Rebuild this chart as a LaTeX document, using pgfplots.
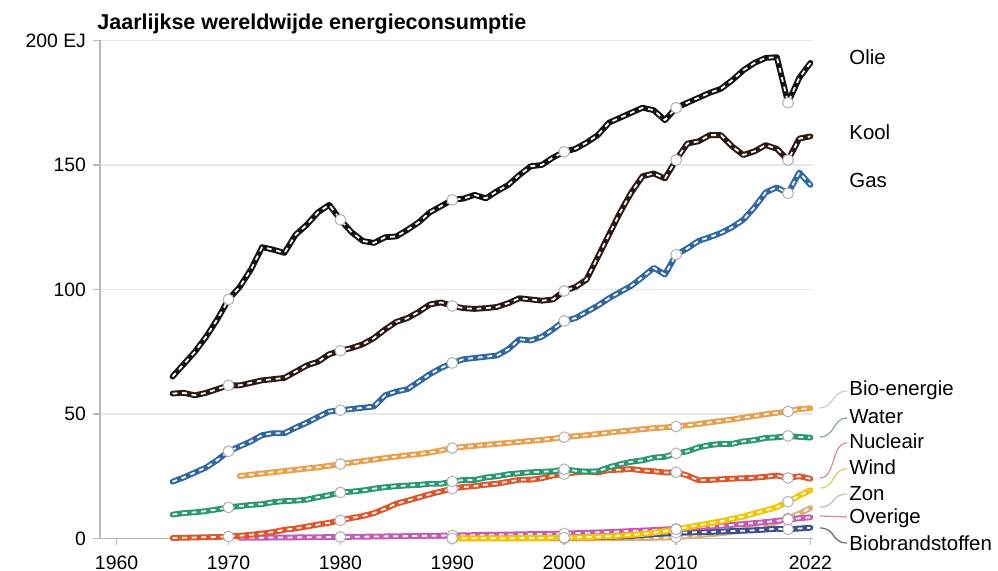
\documentclass[border=0pt]{standalone}
\usepackage{fontspec}
\setmainfont{Liberation Sans}
\usepackage{pgfplots}
\usepackage{pgfplotstable}
\pgfplotsset{compat=1.18}

\definecolor{cOil}{HTML}{121212}
\definecolor{cCoal}{HTML}{2A1814}
\definecolor{cGas}{HTML}{2F67A3}
\definecolor{cBio}{HTML}{E9A04C}
\definecolor{cWater}{HTML}{2A9870}
\definecolor{cNuc}{HTML}{E0552A}
\definecolor{cWind}{HTML}{F2C500}
\definecolor{cZon}{HTML}{D9AE7C}
\definecolor{cOver}{HTML}{C65BB5}
\definecolor{cBiof}{HTML}{3C4F8F}

\pgfplotstableread{
x y
1965 65
1966 70
1967 75
1968 81
1969 88
1970 96
1971 101
1972 108
1973 117
1974 116
1975 114.7
1976 122
1977 126
1978 131
1979 134
1980 128
1981 123
1982 119.5
1983 118.7
1984 121
1985 121.3
1986 124
1987 127
1988 131
1989 133.5
1990 136
1991 136.5
1992 138
1993 136.6
1994 139.5
1995 142
1996 146
1997 149.5
1998 150
1999 153
2000 155.3
2001 156.5
2002 159
2003 162
2004 167
2005 169
2006 171
2007 173
2008 172
2009 168
2010 173
2011 175
2012 177
2013 179
2014 180.6
2015 184
2016 188
2017 191
2018 193
2019 193.3
2020 175
2021 185
2022 191
}\tOil

\pgfplotstableread{
x y
1965 58.2
1966 58.5
1967 57.5
1968 58.5
1969 60
1970 61.5
1971 61.5
1972 62.5
1973 63.5
1974 64
1975 64.5
1976 67
1977 69.5
1978 71
1979 74
1980 75.4
1981 76.5
1982 78
1983 80.5
1984 84
1985 87
1986 88.5
1987 91
1988 94
1989 94.8
1990 93.4
1991 92.5
1992 92.2
1993 92.5
1994 93
1995 94.5
1996 96.5
1997 96
1998 95.5
1999 96
2000 99.4
2001 101
2002 104
2003 113
2004 122
2005 131
2006 139
2007 145.5
2008 146.6
2009 144.6
2010 152
2011 158.6
2012 159.5
2013 162
2014 162
2015 157.5
2016 154
2017 155.5
2018 158
2019 156.5
2020 152
2021 160.6
2022 161.5
}\tCoal

\pgfplotstableread{
x y
1965 22.8
1966 24.5
1967 26.5
1968 28.5
1969 31.5
1970 35
1971 37
1972 39
1973 41.5
1974 42.3
1975 42.3
1976 44.5
1977 46.5
1978 48.8
1979 51
1980 51.5
1981 52
1982 52.5
1983 53
1984 57.5
1985 59
1986 60
1987 63
1988 66
1989 68.5
1990 70.5
1991 72
1992 72.5
1993 73
1994 73.5
1995 76
1996 80
1997 79.5
1998 81
1999 84
2000 87.4
2001 88.5
2002 91
2003 93.5
2004 96.5
2005 99
2006 101.5
2007 105
2008 108.7
2009 106
2010 114
2011 116.5
2012 119.5
2013 121
2014 122.7
2015 125
2016 128
2017 133
2018 139
2019 141
2020 138.6
2021 147
2022 142
}\tGas

\pgfplotstableread{
x y
1971 25.1
1972 25.6
1973 26.1
1974 26.6
1975 27.1
1976 27.6
1977 28.1
1978 28.6
1979 29.2
1980 29.9
1981 30.5
1982 31.1
1983 31.7
1984 32.3
1985 32.9
1986 33.4
1987 33.9
1988 34.5
1989 35.4
1990 36.3
1991 36.8
1992 37.2
1993 37.6
1994 38
1995 38.4
1996 38.8
1997 39.2
1998 39.6
1999 40.1
2000 40.7
2001 41.1
2002 41.5
2003 42
2004 42.5
2005 43
2006 43.4
2007 43.9
2008 44.3
2009 44.6
2010 45
2011 45.5
2012 46
2013 46.6
2014 47.2
2015 47.8
2016 48.5
2017 49.2
2018 49.9
2019 50.5
2020 51
2021 52
2022 52.3
}\tBio

\pgfplotstableread{
x y
1965 9.6
1966 10.2
1967 10.5
1968 11
1969 11.7
1970 12.5
1971 13
1972 13.5
1973 13.8
1974 14.6
1975 15
1976 15.2
1977 15.6
1978 16.6
1979 17.4
1980 18.5
1981 18.8
1982 19.3
1983 20
1984 20.6
1985 21
1986 21.3
1987 21.5
1988 22
1989 22
1990 22.9
1991 23.5
1992 23.5
1993 24.5
1994 25
1995 25.8
1996 26.2
1997 26.6
1998 26.8
1999 27
2000 27.8
2001 27.2
2002 26.8
2003 27
2004 28.6
2005 29.8
2006 30.8
2007 31.4
2008 32.5
2009 32.8
2010 34.2
2011 35
2012 36.6
2013 37.5
2014 38
2015 38
2016 39
2017 39.5
2018 40.4
2019 40.6
2020 41.2
2021 40.8
2022 40.5
}\tWater

\pgfplotstableread{
x y
1965 0.2
1966 0.3
1967 0.4
1968 0.5
1969 0.6
1970 0.8
1971 1.1
1972 1.5
1973 2
1974 2.6
1975 3.5
1976 4
1977 4.8
1978 5.6
1979 6.3
1980 7.3
1981 8.2
1982 9
1983 10.2
1984 12
1985 14
1986 15.2
1987 16.5
1988 17.8
1989 18.9
1990 20
1991 20.7
1992 21
1993 21.6
1994 22
1995 22.8
1996 23.6
1997 23.6
1998 24.2
1999 25.3
2000 25.9
2001 26.5
2002 26.9
2003 26.5
2004 27.5
2005 27.6
2006 27.9
2007 27.3
2008 27
2009 26.5
2010 26.6
2011 25.3
2012 23.4
2013 23.5
2014 23.8
2015 24
2016 24.2
2017 24.4
2018 24.8
2019 25.3
2020 24.3
2021 25
2022 24
}\tNuc

\pgfplotstableread{
x y
1990 0.05
1991 0.06
1992 0.07
1993 0.08
1994 0.1
1995 0.12
1996 0.15
1997 0.18
1998 0.22
1999 0.27
2000 0.33
2001 0.4
2002 0.55
2003 0.7
2004 0.9
2005 1.1
2006 1.4
2007 1.8
2008 2.3
2009 2.9
2010 3.7
2011 4.5
2012 5.3
2013 6.1
2014 6.9
2015 7.9
2016 8.8
2017 10.1
2018 11.3
2019 12.6
2020 14.8
2021 17.2
2022 19.4
}\tWind

\pgfplotstableread{
x y
1990 0.01
1991 0.01
1992 0.01
1993 0.01
1994 0.01
1995 0.02
1996 0.02
1997 0.02
1998 0.02
1999 0.03
2000 0.03
2001 0.04
2002 0.05
2003 0.06
2004 0.08
2005 0.1
2006 0.12
2007 0.17
2008 0.25
2009 0.35
2010 0.5
2011 0.9
2012 1.3
2013 1.7
2014 2.1
2015 2.6
2016 3.3
2017 4.3
2018 5.4
2019 6.6
2020 8.1
2021 10
2022 12.2
}\tZon

\pgfplotstableread{
x y
1971 0.3
1972 0.32
1973 0.34
1974 0.37
1975 0.4
1976 0.44
1977 0.48
1978 0.52
1979 0.56
1980 0.6
1981 0.66
1982 0.72
1983 0.78
1984 0.84
1985 0.9
1986 0.96
1987 1.02
1988 1.08
1989 1.14
1990 1.2
1991 1.28
1992 1.36
1993 1.44
1994 1.52
1995 1.6
1996 1.68
1997 1.76
1998 1.84
1999 1.92
2000 2.0
2001 2.15
2002 2.3
2003 2.45
2004 2.6
2005 2.8
2006 3.0
2007 3.2
2008 3.4
2009 3.65
2010 3.9
2011 4.2
2012 4.5
2013 4.8
2014 5.1
2015 5.45
2016 5.8
2017 6.2
2018 6.6
2019 7.1
2020 7.6
2021 8.1
2022 8.5
}\tOver

\pgfplotstableread{
x y
1990 0.25
1991 0.26
1992 0.27
1993 0.28
1994 0.29
1995 0.3
1996 0.32
1997 0.34
1998 0.36
1999 0.38
2000 0.4
2001 0.45
2002 0.5
2003 0.6
2004 0.7
2005 0.8
2006 1.0
2007 1.3
2008 1.7
2009 2.0
2010 2.3
2011 2.4
2012 2.5
2013 2.6
2014 2.8
2015 3.0
2016 3.1
2017 3.3
2018 3.6
2019 3.9
2020 3.7
2021 4.0
2022 4.3
}\tBiof

\newcommand{\series}[3]{%
  \addplot[#2, line width=2.9pt, line join=round, line cap=round, forget plot] table {#1};
  \addplot[white, line width=0.9pt, dash pattern=on 2.4pt off 2.4pt, line join=round,
    mark=*, mark repeat=10, mark phase=#3, mark size=2.7pt,
    mark options={solid, fill=white, draw=gray!60, line width=0.5pt}, forget plot] table {#1};
}

\begin{document}
\begin{tikzpicture}
\begin{axis}[
  scale only axis, width=356.5pt, height=249pt,
  xmin=1958.52, xmax=2022.23, ymin=0, ymax=200,
  clip=false,
  axis lines*=left,
  axis line style={gray!55, line width=0.8pt},
  tick style={gray!55, line width=0.8pt},
  tick align=outside, major tick length=3.5pt,
  xtick={1960,1970,1980,1990,2000,2010,2022},
  ytick={0,50,100,150,200},
  yticklabels={0,50,100,150,200 EJ\hspace{3.5pt}},
  ymajorgrids, grid style={gray!18, line width=0.6pt},
  tick label style={font=\fontsize{9.7}{11}\selectfont, text=black},
  /pgf/number format/assume math mode=true,
  xticklabel style={/pgf/number format/1000 sep={}, inner ysep=0.4pt, yshift=-4.6pt},
]
\series{\tZon}{cZon}{1}
\series{\tBiof}{cBiof}{1}
\series{\tOver}{cOver}{10}
\series{\tWind}{cWind}{1}
\series{\tNuc}{cNuc}{6}
\series{\tWater}{cWater}{6}
\series{\tBio}{cBio}{10}
\series{\tGas}{cGas}{6}
\series{\tCoal}{cCoal}{6}
\series{\tOil}{cOil}{6}
\end{axis}
\begin{scope}[x=0.5pt, y=-0.5pt, shift={(-50pt,269.25pt)}]
  \node[anchor=base west, inner sep=0pt, font=\fontsize{10.75}{12}\selectfont\bfseries] at (97,30) {Jaarlijkse wereldwijde energieconsumptie};
  \begin{scope}[font=\fontsize{10.2}{12}\selectfont]
    \node[anchor=base west, inner sep=0pt] at (849,65) {Olie};
    \node[anchor=base west, inner sep=0pt] at (849,140) {Kool};
    \node[anchor=base west, inner sep=0pt] at (849,188) {Gas};
    \node[anchor=base west, inner sep=0pt] at (849,396) {Bio-energie};
    \node[anchor=base west, inner sep=0pt] at (849,424) {Water};
    \node[anchor=base west, inner sep=0pt] at (849,449) {Nucleair};
    \node[anchor=base west, inner sep=0pt] at (849,475) {Wind};
    \node[anchor=base west, inner sep=0pt] at (849,500.5) {Zon};
    \node[anchor=base west, inner sep=0pt] at (849,524) {Overige};
    \node[anchor=base west, inner sep=0pt] at (849,551) {Biobrandstoffen};
  \end{scope}
  \begin{scope}[line width=0.6pt]
    \draw[color={rgb,255:red,214;green,204;blue,180}] (819,408) .. controls (834,408) and (832,391) .. (847,391);
    \draw[color={rgb,255:red,138;green,168;blue,160}] (820,437) .. controls (835,437) and (833,418) .. (847,418);
    \draw[color={rgb,255:red,218;green,140;blue,140}] (820,478) .. controls (836,478) and (831,443) .. (847,443);
    \draw[color={rgb,255:red,205;green,210;blue,90}] (820,488) .. controls (836,488) and (831,469) .. (847,469);
    \draw[color={rgb,255:red,200;green,192;blue,170}] (820,507) .. controls (836,507) and (831,494) .. (847,494);
    \draw[color={rgb,255:red,216;green,128;blue,176}] (820,516) .. controls (834,516) and (834,517) .. (847,517);
    \draw[color={rgb,255:red,96;green,104;blue,120}] (820,528) .. controls (836,528) and (831,543) .. (847,543);
  \end{scope}
  \pgfresetboundingbox
  \path[use as bounding box] (0,0) rectangle (998,571);
\end{scope}
\end{tikzpicture}
\end{document}
